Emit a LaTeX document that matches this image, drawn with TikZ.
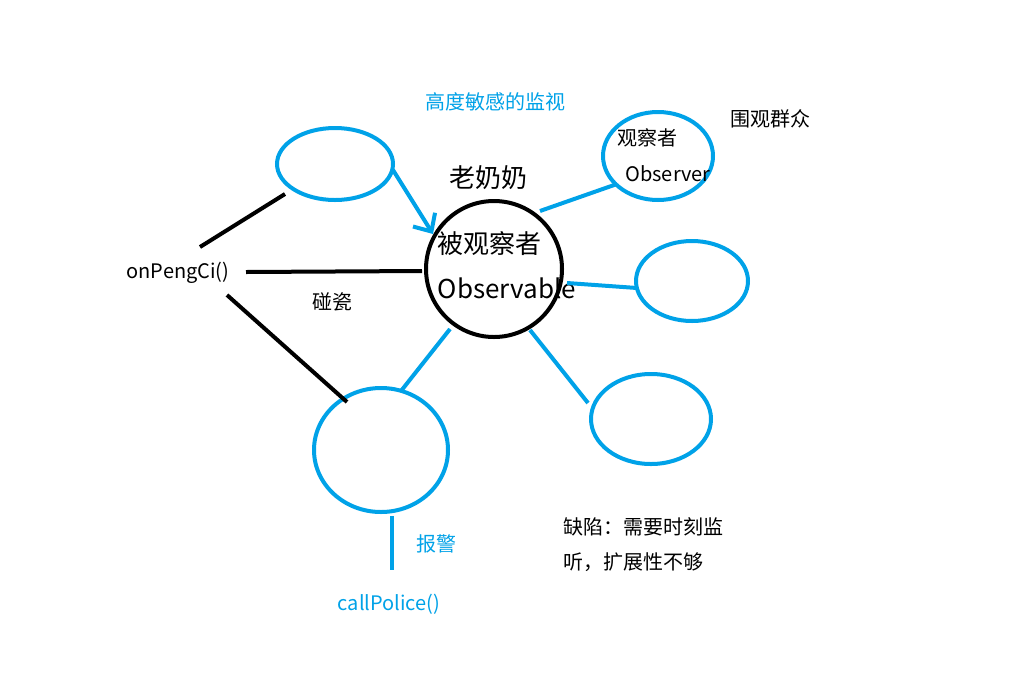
\documentclass[tikz,border=0pt]{standalone}
\usepackage{fontspec}
\setmainfont{Noto Sans CJK SC}
\usetikzlibrary{shapes.geometric,arrows.meta}
\definecolor{pblue}{HTML}{00A2E8}
\tikzset{
  bell/.style={draw=pblue,line width=4pt,ellipse,inner sep=0pt},
  bline/.style={draw=pblue,line width=4pt},
  kline/.style={draw=black,line width=4pt},
  txt/.style={inner sep=0pt,font=\fontsize{20}{24}\selectfont},
  big/.style={inner sep=0pt,font=\fontsize{26}{30}\selectfont},
}
\begin{document}
\begin{tikzpicture}[x=1pt,y=-1pt]
\useasboundingbox (0,0) rectangle (1012,681);
\fill[white] (0,0) rectangle (1012,681);
% central circle
\node[draw=black,line width=4pt,circle,minimum size=136pt,inner sep=0pt] (obs) at (494,269) {};
\node[big] (t1) at (489,244) {被观察者};
\node[big] (t2) at (507,288) {Observable};
\node[big,anchor=center] (grandma) at (488,178) {老奶奶};
\node[txt,text=pblue] (watch) at (495,102) {高度敏感的监视};
% ellipses
\node[bell,minimum width=116pt,minimum height=72pt] (e1) at (335,164) {};
\node[bell,minimum width=110pt,minimum height=88pt] (e2) at (658,156) {};
\node[bell,minimum width=112pt,minimum height=80pt] (e3) at (692,281) {};
\node[bell,minimum width=120pt,minimum height=90pt] (e4) at (651,419) {};
\node[bell,minimum width=134pt,minimum height=124pt] (e5) at (381,450) {};
\node[txt] (o1) at (647,138) {观察者};
\node[txt] (o2) at (668,174) {Observer};
\node[txt] (crowd) at (770,119) {围观群众};
% connector end points
\coordinate (a1) at (393,170);
\coordinate (a2) at (433,234);
\coordinate (b1) at (540,211);
\coordinate (b2) at (617,184);
\coordinate (c1) at (567,283);
\coordinate (c2) at (637,288);
\coordinate (d1) at (530,330);
\coordinate (d2) at (588,403);
\coordinate (f1) at (450,329);
\coordinate (f2) at (401,391);
\coordinate (g1) at (392,516);
\coordinate (g2) at (392,570);
\draw[bline,-{Straight Barb[length=14pt,width=26pt]}] (a1) -- (a2);
\draw[bline] (b1) -- (b2);
\draw[bline] (c1) -- (c2);
\draw[bline] (d1) -- (d2);
\draw[bline] (f1) -- (f2);
\draw[bline] (g1) -- (g2);
\node[txt,text=pblue] (alarm) at (436,544) {报警};
\node[txt,text=pblue] (police) at (389,604) {callPolice()};
% onPengCi
\node[txt] (peng) at (178,273) {onPengCi()};
\coordinate (h1) at (200,247);
\coordinate (h2) at (285,194);
\coordinate (i1) at (246,272);
\coordinate (i2) at (422,271);
\coordinate (j1) at (227,295);
\coordinate (j2) at (347,402);
\draw[kline] (h1) -- (h2);
\draw[kline] (i1) -- (i2);
\draw[kline] (j1) -- (j2);
\node[txt] (pc) at (332,302) {碰瓷};
\node[txt,anchor=west] (def1) at (563,527) {缺陷：需要时刻监};
\node[txt,anchor=west] (def2) at (563,562) {听，扩展性不够};
\end{tikzpicture}
\end{document}
